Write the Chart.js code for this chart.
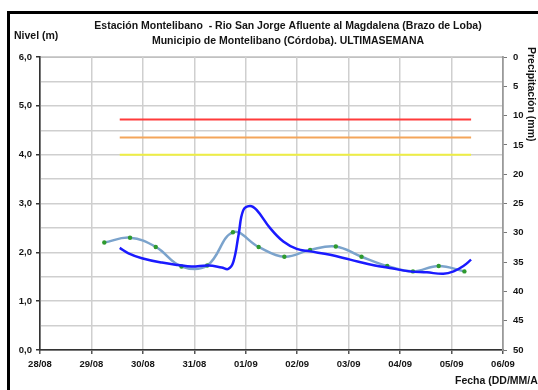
<!DOCTYPE html>
<html>
<head>
<meta charset="utf-8">
<script src="https://cdn.jsdelivr.net/npm/chart.js@4.4.0/dist/chart.umd.min.js"></script>
<style>
  body { margin: 0; background: #fff; }
  #wrap { width: 538px; height: 390px; }
</style>
</head>
<body>
<div id="wrap"><canvas id="nivel" width="538" height="390"></canvas></div>
<script>
// tick labels for the date axis (days since 28/08)
var fechas = ['28/08', '29/08', '30/08', '31/08', '01/09', '02/09', '03/09', '04/09', '05/09', '06/09'];

// nivel continuo (linea azul), x in days since 28/08 00:00
var nivelDias = [1.55, 1.72, 1.98, 2.37, 2.69, 2.95, 3.27, 3.53, 3.66, 3.76, 3.86, 3.95, 4.08, 4.21, 4.47, 4.73, 4.99, 5.25, 5.64, 6.03, 6.51, 6.80, 7.19, 7.52, 7.84, 8.04, 8.23, 8.38];
var nivelValores = [2.09, 1.98, 1.88, 1.79, 1.74, 1.71, 1.73, 1.69, 1.66, 1.81, 2.36, 2.86, 2.95, 2.87, 2.50, 2.22, 2.07, 2.02, 1.95, 1.85, 1.73, 1.68, 1.61, 1.59, 1.56, 1.61, 1.72, 1.85];

// lecturas de mira (puntos verdes), 06:00 y 18:00
var lecturaDias = [1.25, 1.75, 2.25, 2.75, 3.25, 3.75, 4.25, 4.75, 5.25, 5.75, 6.25, 6.75, 7.25, 7.75, 8.25];
var lecturaValores = [2.20, 2.30, 2.11, 1.71, 1.73, 2.41, 2.11, 1.91, 2.05, 2.12, 1.91, 1.72, 1.61, 1.72, 1.61];

// umbrales de alerta
var alertaDias = [1.55, 8.38];
var alertaRoja = 4.72;
var alertaNaranja = 4.35;
var alertaAmarilla = 4.0;

function pts(xs, ys) {
  return xs.map(function (x, i) { return { x: x, y: ys[i] }; });
}
function flat(v) {
  return alertaDias.map(function (x) { return { x: x, y: v }; });
}

var FONT = 'Liberation Sans, Arial, sans-serif';
var TXT = '#141414';

var textos = {
  id: 'textos',
  beforeDraw: function (chart) {
    var c = chart.ctx, a = chart.chartArea;
    c.save();
    // plot frame (gray top/right)
    c.strokeStyle = '#9a9a9a';
    c.lineWidth = 1.5;
    c.strokeRect(a.left, a.top, a.right - a.left, a.bottom - a.top);
    c.restore();
  },
  afterDraw: function (chart) {
    var c = chart.ctx;
    c.save();
    // outer black frame
    c.strokeStyle = '#000';
    c.lineWidth = 3;
    c.strokeRect(8.5, 12.5, 700, 500);
    c.fillStyle = TXT;
    c.font = 'bold 10.5px ' + FONT;
    c.textBaseline = 'middle';
    c.textAlign = 'center';
    c.fillText('Estación Montelibano  - Rio San Jorge Afluente al Magdalena (Brazo de Loba)', 288, 26);
    c.fillText('Municipio de Montelibano (Córdoba). ULTIMASEMANA', 288, 41);
    c.textAlign = 'left';
    c.fillText('Nivel (m)', 14, 36);
    c.fillText('Fecha (DD/MM/AA)', 455, 381);
    c.translate(531, 47);
    c.rotate(Math.PI / 2);
    c.fillText('Precipitación (mm)', 0, 0);
    c.restore();
  }
};

var ctx = document.getElementById('nivel');
var chart = new Chart(ctx, {
  type: 'scatter',
  data: {
    datasets: [
      {
        label: 'Nivel',
        data: pts(nivelDias, nivelValores),
        showLine: true,
        borderColor: '#1a1aff',
        borderWidth: 2.5,
        pointRadius: 0,
        tension: 0.4,
        order: 0
      },
      {
        label: 'Lecturas',
        data: pts(lecturaDias, lecturaValores),
        showLine: true,
        borderColor: '#7ba3cc',
        borderWidth: 2.5,
        pointRadius: 2.2,
        pointBackgroundColor: '#2e9a2e',
        pointBorderColor: '#2e9a2e',
        pointBorderWidth: 0,
        tension: 0.4,
        order: 1
      },
      { label: 'Roja', data: flat(alertaRoja), showLine: true, borderColor: '#ff3b3b', borderWidth: 2, pointRadius: 0, order: 2 },
      { label: 'Naranja', data: flat(alertaNaranja), showLine: true, borderColor: '#f4a55a', borderWidth: 2, pointRadius: 0, order: 2 },
      { label: 'Amarilla', data: flat(alertaAmarilla), showLine: true, borderColor: '#eeee44', borderWidth: 2, pointRadius: 0, order: 2 }
    ]
  },
  options: {
    responsive: false,
    animation: false,
    layout: { padding: { top: 57, left: 0, right: 0, bottom: 0 } },
    plugins: { legend: { display: false }, title: { display: false }, tooltip: { enabled: false } },
    scales: {
      x: {
        type: 'linear',
        min: 0,
        max: 9,
        afterFit: function (s) { s.height = 40; },
        ticks: {
          stepSize: 1,
          padding: 5,
          maxRotation: 0,
          color: TXT,
          font: { family: FONT, size: 9.5, weight: 'bold' },
          callback: function (v) { return fechas[v]; }
        },
        grid: { color: '#cfcfcf', lineWidth: 1.5, tickLength: 4, tickColor: '#555' },
        border: { color: '#333', width: 1.5 }
      },
      y: {
        min: 0,
        max: 6,
        afterFit: function (s) { s.width = 40; },
        ticks: {
          stepSize: 0.5,
          padding: 4,
          color: TXT,
          font: { family: FONT, size: 9.5, weight: 'bold' },
          callback: function (v) { return v % 1 === 0 ? v.toFixed(1).replace('.', ',') : ''; }
        },
        grid: {
          color: '#cfcfcf',
          lineWidth: 1.5,
          tickLength: 4,
          tickColor: function (c) { return c.tick && c.tick.value % 1 === 0 ? '#333' : 'rgba(0,0,0,0)'; }
        },
        border: { color: '#333', width: 1.5 }
      },
      y2: {
        position: 'right',
        reverse: true,
        min: 0,
        max: 50,
        afterFit: function (s) { s.width = 35; },
        ticks: {
          stepSize: 5,
          padding: 6,
          color: TXT,
          font: { family: FONT, size: 9.5, weight: 'bold' }
        },
        grid: { drawOnChartArea: false, tickLength: 4, tickColor: '#777' },
        border: { color: '#9a9a9a', width: 1.5 }
      }
    }
  },
  plugins: [textos]
});
</script>
</body>
</html>
